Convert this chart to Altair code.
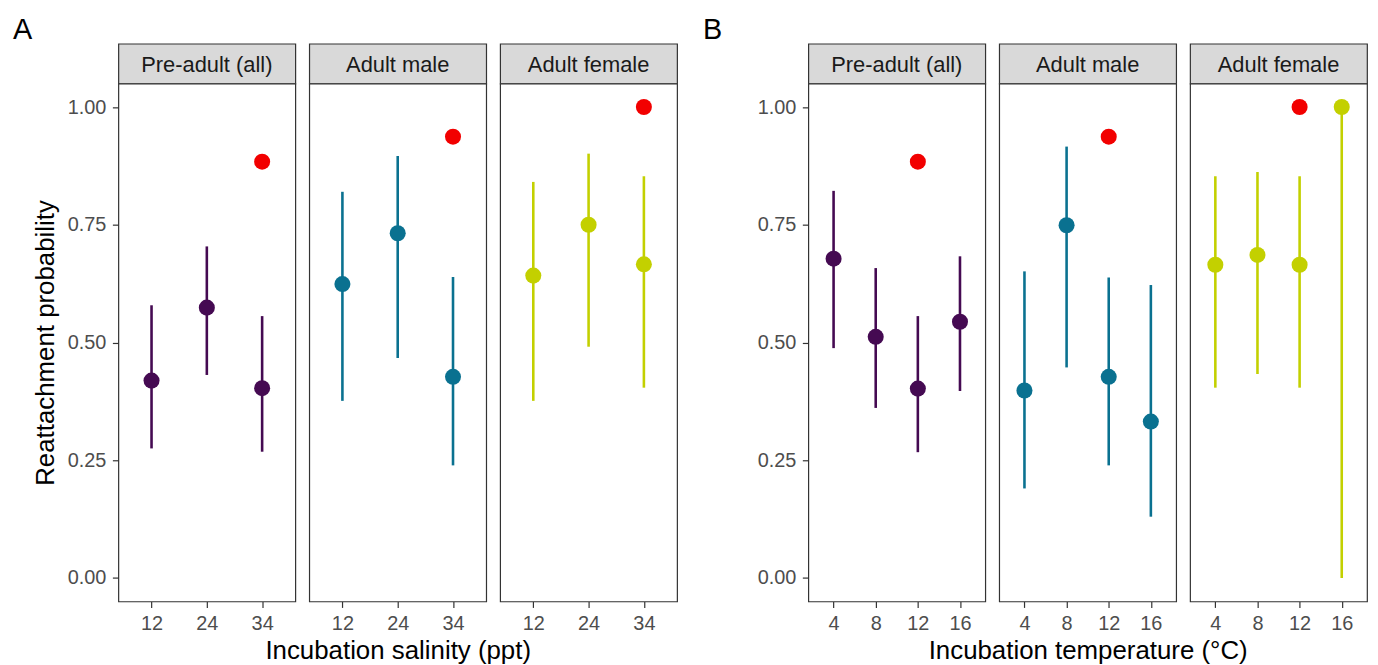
import altair as alt
import pandas as pd

FONT = "Liberation Sans"

stages = ["Pre-adult (all)", "Adult male", "Adult female"]
stage_colors = ["#450A52", "#0A7190", "#C3D000"]
control_color = "#F20000"
panel_letters = ["A", "B"]
x_titles = ["Incubation salinity (ppt)", "Incubation temperature (°C)"]
y_title = "Reattachment probability"
y_ticks = [0.0, 0.25, 0.5, 0.75, 1.0]

# Panel A: incubation salinity
salinity = ["12", "24", "34"]
sal_est = [[0.419, 0.574, 0.403], [0.624, 0.732, 0.427], [0.642, 0.750, 0.666]]
sal_lo = [[0.275, 0.431, 0.268], [0.376, 0.467, 0.239], [0.376, 0.491, 0.404]]
sal_hi = [[0.579, 0.704, 0.556], [0.820, 0.896, 0.639], [0.841, 0.901, 0.853]]
sal_ctrl_level = "34"
sal_ctrl = [0.884, 0.937, 1.0]

# Panel B: incubation temperature
temperature = ["4", "8", "12", "16"]
temp_est = [[0.678, 0.512, 0.402, 0.544], [0.398, 0.749, 0.427, 0.332], [0.665, 0.686, 0.665, 1.0]]
temp_lo = [[0.488, 0.361, 0.267, 0.397], [0.190, 0.447, 0.239, 0.130], [0.404, 0.433, 0.404, 0.0]]
temp_hi = [[0.822, 0.658, 0.556, 0.683], [0.651, 0.916, 0.638, 0.622], [0.853, 0.862, 0.853, 1.0]]
temp_ctrl_level = "12"
temp_ctrl = [0.884, 0.937, 1.0]

PW = 178
STRIP_H = 40
PLOT_H = 521
GAP_SPACER = 104
PT_SIZE = 260

yscale = alt.Scale(domain=[-0.05, 1.05], nice=False, zero=False)
cscale = alt.Scale(domain=stages, range=stage_colors)


def make_plot(field, levels, est, lo, hi, ctrl_level, ctrl_val, stage, yaxis_mode, xtitle):
    df = pd.DataFrame({field: levels, "est": est, "lo": lo, "hi": hi, "stage": [stage] * len(levels)})
    cdf = pd.DataFrame({field: [ctrl_level], "est": [ctrl_val]})
    xaxis = alt.Axis(labelAngle=0, title=xtitle, titleY=36, titleBaseline="top")
    x = alt.X(f"{field}:O", scale=alt.Scale(type="point", domain=levels, padding=0.6), axis=xaxis)
    if yaxis_mode == "title":
        yaxis = alt.Axis(values=y_ticks, format=".2f", title=y_title, titleX=-60, titleY=PLOT_H / 2)
    elif yaxis_mode == "plain":
        yaxis = alt.Axis(values=y_ticks, format=".2f", title=None)
    else:
        yaxis = None
    color = alt.Color("stage:N", scale=cscale, legend=None)
    rules = alt.Chart(df).mark_rule(strokeWidth=2.6).encode(
        x=x, y=alt.Y("lo:Q", scale=yscale, axis=yaxis), y2="hi:Q", color=color
    )
    pts = alt.Chart(df).mark_circle(size=PT_SIZE, opacity=1).encode(
        x=x, y=alt.Y("est:Q", scale=yscale, axis=yaxis), color=color
    )
    ctrl = alt.Chart(cdf).mark_circle(size=PT_SIZE, opacity=1, color=control_color).encode(
        x=x, y=alt.Y("est:Q", scale=yscale, axis=yaxis)
    )
    return alt.layer(rules, pts, ctrl).properties(
        width=PW, height=PLOT_H,
        view=alt.ViewBackground(fill="white", stroke="#333333", strokeWidth=1.2),
    )


def make_strip(stage, letter=""):
    base = alt.Chart(pd.DataFrame({"label": [stage]})).mark_text(
        font=FONT, fontSize=22, color="#1A1A1A", align="center", baseline="middle"
    ).encode(text="label:N", x=alt.value(PW / 2), y=alt.value(21))
    layers = [base]
    if letter:
        layers.append(
            alt.Chart(pd.DataFrame({"label": [letter]})).mark_text(
                font=FONT, fontSize=29, color="black", align="left", baseline="top"
            ).encode(text="label:N", x=alt.value(-106), y=alt.value(-27.4))
        )
    return alt.layer(*layers).properties(
        width=PW, height=STRIP_H,
        view=alt.ViewBackground(fill="#D9D9D9", stroke="#333333", strokeWidth=1.2),
    )


def spacer(h):
    return alt.Chart(pd.DataFrame({"v": [0]})).mark_point(opacity=0).encode(
        x=alt.value(0), y=alt.value(0)
    ).properties(width=GAP_SPACER, height=h,
                 view=alt.ViewBackground(fill="transparent", stroke="transparent"))


top_row = []
bottom_row = []
for i, s in enumerate(stages):
    top_row.append(make_strip(s, panel_letters[0] if i == 0 else ""))
    bottom_row.append(make_plot(
        "salinity", salinity, sal_est[i], sal_lo[i], sal_hi[i], sal_ctrl_level, sal_ctrl[i], s,
        "title" if i == 0 else "none", x_titles[0] if i == 1 else None))
top_row.append(spacer(STRIP_H))
bottom_row.append(spacer(PLOT_H))
for i, s in enumerate(stages):
    top_row.append(make_strip(s, panel_letters[1] if i == 0 else ""))
    bottom_row.append(make_plot(
        "temperature", temperature, temp_est[i], temp_lo[i], temp_hi[i], temp_ctrl_level, temp_ctrl[i], s,
        "plain" if i == 0 else "none", x_titles[1] if i == 1 else None))

chart = alt.concat(
    *top_row, *bottom_row, columns=7,
    spacing={"row": 0, "column": 14}, bounds="flush", align="each",
).properties(
    padding={"left": 4, "top": 6, "right": 2, "bottom": 2},
    background="white",
).configure_axis(
    labelFont=FONT, labelFontSize=20, labelColor="#4D4D4D",
    tickColor="#333333", tickWidth=1.2, tickSize=6, labelPadding=6.5,
    domain=False, grid=False,
    titleFont=FONT, titleFontSize=26, titleColor="black", titleFontWeight="normal",
)

chart.save("out.html", embed_options={"renderer": "svg", "actions": False})
